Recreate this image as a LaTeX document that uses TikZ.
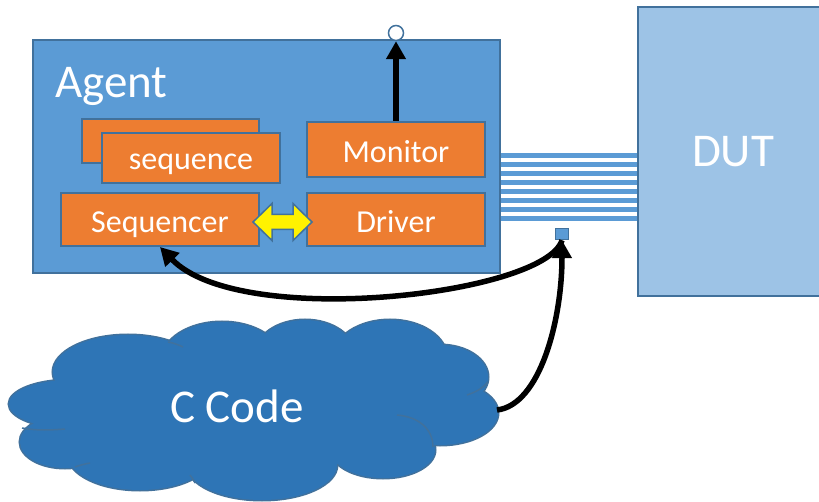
\documentclass[tikz,border=0pt]{standalone}
\usepackage{fontspec}
\setmainfont{Carlito}
\usetikzlibrary{arrows.meta}
\definecolor{agentblue}{HTML}{5B9BD5}
\definecolor{edgeblue}{HTML}{41719C}
\definecolor{dutblue}{HTML}{9DC3E6}
\definecolor{cloudblue}{HTML}{2E75B6}
\definecolor{uvmorange}{HTML}{ED7D31}

\begin{document}
\begin{tikzpicture}[x=1pt,y=-1pt,
  box/.style={draw=edgeblue, line width=2pt, fill=uvmorange, text=white, inner sep=0pt,
    font=\fontsize{32}{32}\selectfont, text height=27pt, text depth=1pt},
  bigtext/.style={text=white, inner sep=0pt, font=\fontsize{47}{47}\selectfont},
  wire/.style={line width=5.5pt, -{Triangle[length=18pt,width=19pt]}},
  busline/.style={agentblue, line width=5pt},
  cloudedge/.style={draw=edgeblue, line width=3pt},
  seam/.style={edgeblue, line width=1.5pt}]
\useasboundingbox (0,0) rectangle (819,502);

% agent and dut
\node[draw=edgeblue, line width=2pt, fill=agentblue, minimum width=467pt, minimum height=233pt] (agent) at (266.5,156.5) {};
\node[bigtext, anchor=base west] (agentlabel) at (55,98) {Agent};
\node[draw=edgeblue, line width=2pt, fill=dutblue, text=white, minimum width=190pt, minimum height=289pt,
  font=\fontsize{47}{47}\selectfont] (dut) at (733,151.5) {DUT};

% pins between them
\foreach \yy in {156,165,174,183,192,201,210,219}
  \draw[busline] (agent.east |- 0,\yy) -- (dut.west |- 0,\yy);

% components
\node[box, minimum width=177pt, minimum height=44pt] (seqback) at (170.5,141) {};
\node[box, minimum width=178pt, minimum height=50pt, text depth=3pt] (sequence) at (191,158) {sequence};
\node[box, minimum width=198pt, minimum height=53pt] (sequencer) at (160,219.5) {Sequencer};
\node[box, minimum width=178pt, minimum height=55pt] (monitor) at (396,149.5) {Monitor};
\node[box, minimum width=178pt, minimum height=53pt] (driver) at (396,219.5) {Driver};

% sequencer <-> driver
\begin{scope}[shift={(282.5,222)}]
\draw[draw=edgeblue, line width=1.5pt, fill=yellow, line join=miter]
  (-29.5,0) -- (-10.5,-18.5) -- (-10.5,-7.5) -- (10.5,-7.5) -- (10.5,-18.5) -- (29.5,0)
  -- (10.5,18.5) -- (10.5,7.5) -- (-10.5,7.5) -- (-10.5,18.5) -- cycle;
\end{scope}

\node[circle, draw=edgeblue, line width=1.5pt, fill=white, minimum size=15pt, inner sep=0pt] (probe) at (396,33) {};
\node[draw=edgeblue, line width=1.5pt, fill=agentblue, minimum width=13pt, minimum height=11pt, inner sep=0pt] (port) at (562,234) {};

% c code cloud
\def\cloudpuffs{70/404/61/24, 128/372/75/37, 222/360/60/38, 305/355/50/35, 390/358/57/38,
  440/377/48/32, 440/413/58/32, 383/450/52/28, 262/465/75/35, 140/455/72/35, 65/442/45/26}
\foreach \cx/\cy/\rx/\ry in \cloudpuffs
  \draw[cloudedge] (\cx,\cy) ellipse [x radius=\rx, y radius=\ry];
\foreach \cx/\cy/\rx/\ry in \cloudpuffs
  \fill[cloudblue] (\cx,\cy) ellipse [x radius=\rx, y radius=\ry];
\fill[cloudblue] (255,410) ellipse [x radius=190, y radius=60];
% seams between puffs
\draw[seam] (397,415) .. controls (420,417) and (433,430) .. (433,447);
\draw[seam] (22,428) .. controls (38,431) and (52,430) .. (65,429);
\draw[seam] (467,395) .. controls (476,392) and (483,388) .. (488,382);
\draw[seam] (168,342) .. controls (174,343) and (179,345) .. (183,347);
\draw[seam] (75,467) .. controls (80,465) and (85,464) .. (90,463);
\draw[seam] (190,475) .. controls (192,478) and (194,480) .. (195,483);
\node[bigtext, anchor=base] (ccode) at (237,422) {C Code};
\coordinate (cloudtip) at (497,410);

% connections
\draw[wire] (monitor.north) -- (probe.south);
\draw[wire] (port.south) .. controls (545,295) and (240,330) .. (sequencer.south);
\draw[wire] (cloudtip) .. controls (540,405) and (562,320) .. (port.south);
\end{tikzpicture}
\end{document}
